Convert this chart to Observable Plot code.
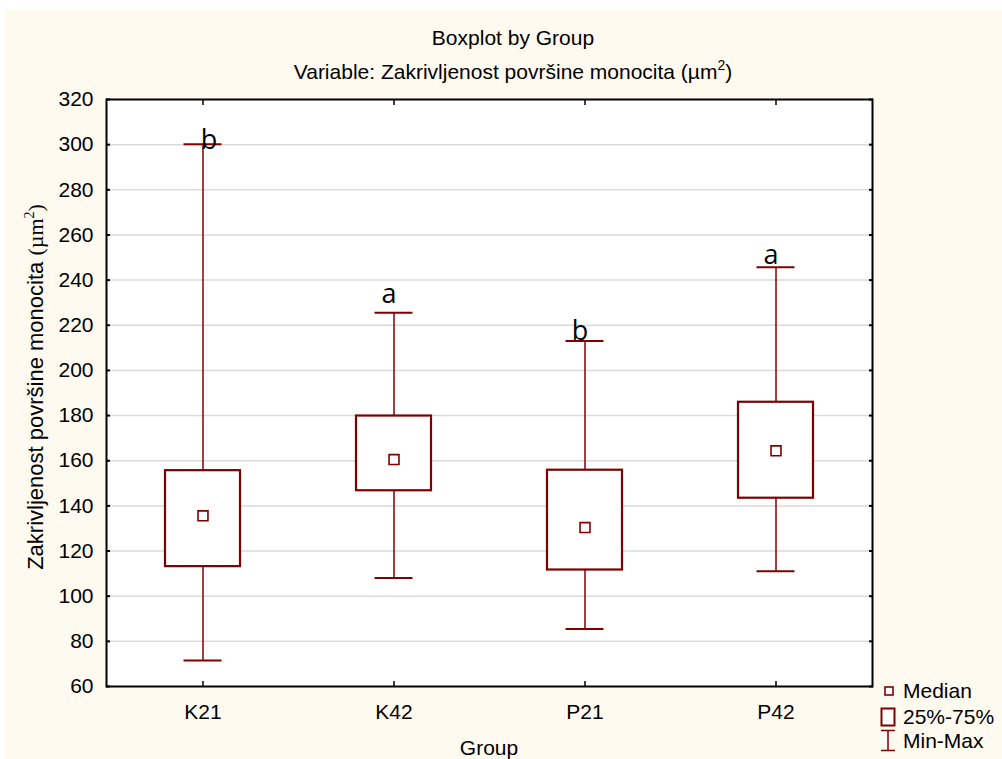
<!DOCTYPE html>
<html><head><meta charset="utf-8">
<script src="https://cdn.jsdelivr.net/npm/d3@7"></script>
<script src="https://cdn.jsdelivr.net/npm/@observablehq/plot@0.6"></script>
<style>
body{margin:0;background:#fff;font-family:"Liberation Sans",Arial,sans-serif;}
#wrap{position:absolute;left:5px;top:10px;width:997px;height:749px;background:#FFFAF0;overflow:hidden;}
.t{position:absolute;left:0;width:1016px;text-align:center;font-size:21px;line-height:24px;color:#000;white-space:nowrap;}
.t sup{font-size:14px;vertical-align:baseline;position:relative;top:-9px;}
#chart{position:absolute;left:0;top:0;}
</style></head>
<body>
<div id="wrap">
  <div class="t" style="top:16px">Boxplot by Group</div>
  <div class="t" style="top:50px">Variable: Zakrivljenost površine monocita (µm<sup>2</sup>)</div>
  <div id="chart"></div>
</div>
<script>
const groups = ["K21", "K42", "P21", "P42"];
const minVals = [71.5, 108.1, 85.5, 111.0];
const q1Vals = [113.1, 146.7, 111.6, 143.4];
const medVals = [135.6, 160.5, 130.4, 164.4];
const q3Vals = [155.6, 179.8, 155.8, 185.9];
const maxVals = [300.2, 225.6, 213.0, 245.7];
const letters = ["b", "a", "b", "a"];
const letterVals = [298.0, 229.8, 213.4, 247.0];
const yTicks = [60, 80, 100, 120, 140, 160, 180, 200, 220, 240, 260, 280, 300, 320];

const RED = "#800000";
const FONT = "'Liberation Sans', Arial, sans-serif";
const rows = groups.map((g, i) => ({
  group: g, min: minVals[i], q1: q1Vals[i], med: medVals[i], q3: q3Vals[i], max: maxVals[i],
  letter: letters[i], ly: letterVals[i]
}));

const W = 997, H = 749;
const plot = Plot.plot({
  width: W, height: H,
  marginTop: 89, marginLeft: 101, marginRight: 130, marginBottom: 73,
  style: {background: "transparent", fontFamily: FONT, fontSize: "21px", color: "#000", overflow: "visible"},
  x: {domain: groups, paddingInner: 0.608, paddingOuter: 0.304, align: 0.5, label: null},
  y: {domain: [60, 320], label: null},
  marks: [
    Plot.frame({fill: "white"}),
    Plot.gridY(yTicks.filter(t => t > 60 && t < 320), {stroke: "#dadada", strokeOpacity: 1, strokeWidth: 1.5}),
    Plot.ruleX(rows, {x: "group", y1: "min", y2: "q1", stroke: RED, strokeWidth: 1.5}),
    Plot.ruleX(rows, {x: "group", y1: "q3", y2: "max", stroke: RED, strokeWidth: 1.5}),
    Plot.tickY(rows, {x: "group", y: "min", stroke: RED, strokeWidth: 2, inset: 18.5}),
    Plot.tickY(rows, {x: "group", y: "max", stroke: RED, strokeWidth: 2, inset: 18.5}),
    Plot.barY(rows, {x: "group", y1: "q1", y2: "q3", fill: "white", stroke: RED, strokeWidth: 2.2}),
    Plot.dot(rows, {x: "group", y: "med", symbol: "square", r: 5.6, fill: "white", stroke: RED, strokeWidth: 1.6}),
    Plot.text(rows.filter(d => d.group === "K21"), {x: "group", y: "ly", text: "letter", dx: 6, lineAnchor: "bottom", fontSize: 27, fontFamily: "'Open Sans', sans-serif", fill: "#000"}),
    Plot.text(rows.filter(d => d.group !== "K21"), {x: "group", y: "ly", text: "letter", dx: -5, lineAnchor: "bottom", fontSize: 27, fontFamily: "'Open Sans', sans-serif", fill: "#000"}),
    Plot.axisY(yTicks, {anchor: "left", tickSize: -4, tickPadding: 17, label: null, stroke: "#000", strokeWidth: 2, fontSize: 21}),
    Plot.axisY(yTicks, {anchor: "right", tickSize: -4, tickFormat: () => "", label: null, stroke: "#000", strokeWidth: 2}),
    Plot.axisX(groups, {anchor: "bottom", tickSize: -5, tickPadding: 23, label: null, stroke: "#000", strokeWidth: 1.5, fontSize: 21}),
    Plot.axisX(groups, {anchor: "top", tickSize: -5, tickFormat: () => "", label: null, stroke: "#000", strokeWidth: 1.5}),
    Plot.frame({stroke: "#000", strokeWidth: 2})
  ]
});
document.getElementById("chart").appendChild(plot);

const svg = d3.select(plot);
// x axis title
svg.append("text").attr("x", 484).attr("y", 745).attr("text-anchor", "middle")
  .attr("font-size", 21).attr("font-family", FONT).text("Group");
// y axis title
const yl = svg.append("text").attr("transform", "translate(38,377) rotate(-90)")
  .attr("text-anchor", "middle").attr("font-size", 22).attr("font-family", FONT);
yl.append("tspan").text("Zakrivljenost površine monocita ");
yl.append("tspan").attr("font-family", "'Liberation Serif', 'DejaVu Serif', serif").text("(µm");
yl.append("tspan").attr("font-family", "'Liberation Serif', serif").attr("font-size", 14).attr("dy", -9).text("2");
yl.append("tspan").attr("font-family", "'Liberation Serif', serif").attr("dy", 9).text(")");

// legend
const lg = svg.append("g").attr("font-size", 21).attr("font-family", FONT).attr("text-anchor", "start");
lg.append("rect").attr("x", 880).attr("y", 677).attr("width", 8).attr("height", 8).attr("fill", "white").attr("stroke", RED).attr("stroke-width", 1.6);
lg.append("text").attr("x", 898).attr("y", 681).attr("dy", "0.35em").text("Median");
lg.append("rect").attr("x", 876.5).attr("y", 698.5).attr("width", 13).attr("height", 17).attr("fill", "white").attr("stroke", RED).attr("stroke-width", 2);
lg.append("text").attr("x", 898).attr("y", 707).attr("dy", "0.35em").text("25%-75%");
lg.append("path").attr("d", "M876,720.5H890M883,720.5V740.5M876,740.5H890").attr("fill", "none").attr("stroke", RED).attr("stroke-width", 1.5);
lg.append("text").attr("x", 898).attr("y", 731).attr("dy", "0.35em").text("Min-Max");
</script>
</body></html>
